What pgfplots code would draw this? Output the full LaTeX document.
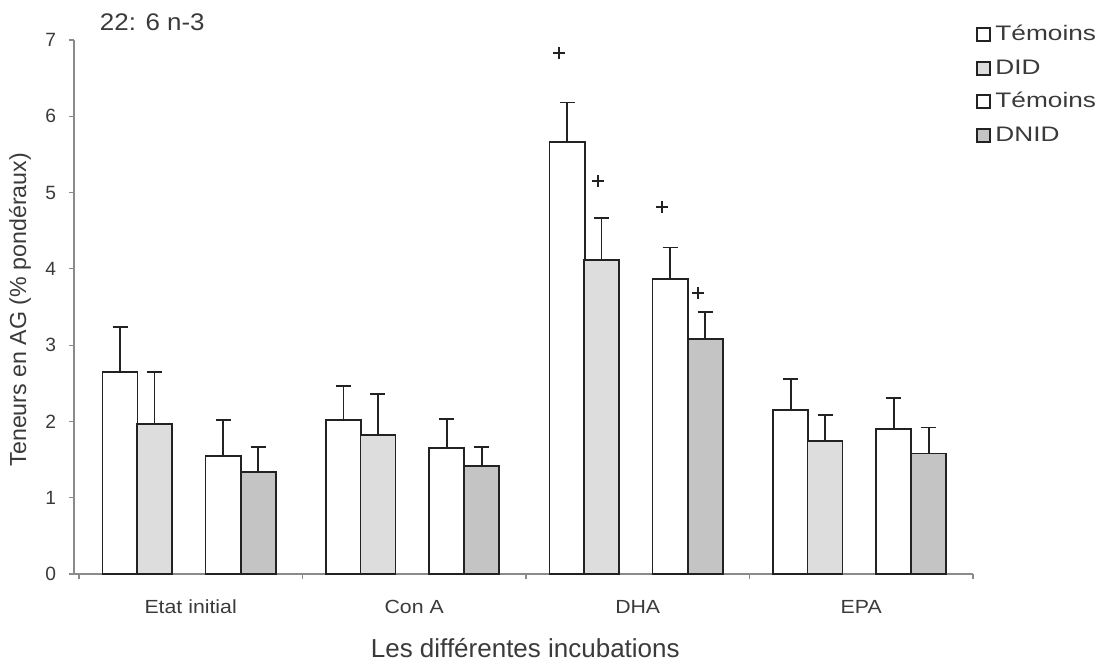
\documentclass[border=0pt]{standalone}
\usepackage{fontspec}
\setmainfont{Liberation Sans}
\newfontfamily\legfont[FakeStretch=1.25]{Liberation Sans}
\newfontfamily\catfont[FakeStretch=1.12]{Liberation Sans}
\newfontfamily\titfont[FakeStretch=1.08]{Liberation Sans}
\usepackage{pgfplots}
\pgfplotsset{compat=1.18}
\usepackage{pgfplotstable}
\definecolor{txt}{HTML}{3A3A3A}
\definecolor{barline}{HTML}{222222}
\definecolor{didc}{HTML}{DDDDDD}
\definecolor{dnidc}{HTML}{C4C4C4}
\definecolor{axc}{HTML}{8A8A8A}

\pgfplotstableread{
x t1 t1e did dide t2 t2e dnid dnide
0 2.65 0.59 1.97 0.68 1.55 0.47 1.34 0.33
1 2.02 0.44 1.82 0.54 1.65 0.38 1.42 0.25
2 5.66 0.52 4.12 0.55 3.87 0.41 3.08 0.35
3 2.15 0.41 1.74 0.34 1.90 0.41 1.58 0.34
}\data

\begin{document}
\begin{tikzpicture}
\useasboundingbox (-37pt,-43pt) rectangle (512.5pt,287pt);
\begin{axis}[
  scale only axis, width=449.5pt, height=267pt,
  xmin=-0.522, xmax=3.5, ymin=0, ymax=7,
  axis x line*=bottom, axis y line*=left,
  axis line style={axc, line width=0.6pt, -},
  tick style={axc, line width=0.6pt},
  tick align=outside, major tick length=2.5pt,
  ytick={0,1,...,7},
  xtick={-0.5,0.5,1.5,2.5,3.5},
  x tick label as interval,
  xticklabels={Etat initial, Con A, DHA, EPA},
  xticklabel style={yshift=-7pt, font=\catfont\fontsize{9.5}{11}\selectfont, text=txt},
  yticklabel style={xshift=-3pt, font=\fontsize{9.6}{12}\selectfont, text=txt},
  /pgf/number format/assume math mode=true,
  every axis y label/.style={at={(rel axis cs:-0.06,0.495)}, rotate=90, anchor=center,
     font=\fontsize{11.6}{13}\selectfont, text=txt},
  every axis x label/.style={at={(rel axis cs:0.502,-0.138)}, anchor=center,
     font=\fontsize{13}{15}\selectfont, text=txt},
  ylabel={Teneurs en AG (\% pondéraux)},
  xlabel={Les différentes incubations},
  bar width=0.157,
  legend style={at={(rel axis cs:1.003,1.033)}, anchor=north west, draw=none, fill=none,
     font=\legfont\fontsize{10.5}{12}\selectfont, text=txt, row sep=4.75pt, inner sep=0pt,
     nodes={inner sep=1pt, text height=8pt, text depth=2pt}},
  legend cell align=left,
  mysq/.style={legend image code/.code={\draw[##1,draw=barline,line width=0.9pt] (0pt,-3.2pt) rectangle (6.4pt,3.2pt); \path[draw=none,fill=none] (0pt,0pt) (8.2pt,0pt);}},
  myerr/.style={error bars/.cd, y dir=plus, y explicit,
     error bar style={barline, line width=0.9pt},
     error mark options={rotate=90, mark size=3.75pt, barline, line width=0.9pt}},
  clip=false,
]
\addplot[ybar, bar shift=0pt, fill=white, draw=barline, line width=0.9pt, mysq, myerr]
  table[x expr=\thisrow{x}-0.316, y=t1, y error=t1e] {\data};
\addlegendentry{Témoins}
\addplot[ybar, bar shift=0pt, fill=didc, draw=barline, line width=0.9pt, mysq, myerr]
  table[x expr=\thisrow{x}-0.162, y=did, y error=dide] {\data};
\addlegendentry{DID}
\addplot[ybar, bar shift=0pt, fill=white, draw=barline, line width=0.9pt, mysq, myerr]
  table[x expr=\thisrow{x}+0.145, y=t2, y error=t2e] {\data};
\addlegendentry{Témoins}
\addplot[ybar, bar shift=0pt, fill=dnidc, draw=barline, line width=0.9pt, mysq, myerr]
  table[x expr=\thisrow{x}+0.302, y=dnid, y error=dnide] {\data};
\addlegendentry{DNID}
\addplot[only marks, mark=+, mark size=3pt, mark options={barline, line width=0.8pt}, forget plot]
  coordinates {(1.648,6.83) (1.822,5.15) (2.108,4.81) (2.269,3.68)};
\node[anchor=west, text=txt, font=\titfont\fontsize{12}{14}\selectfont] at (rel axis cs:0.021,1.034) {22: 6 n-3};
\end{axis}
\end{tikzpicture}
\end{document}
